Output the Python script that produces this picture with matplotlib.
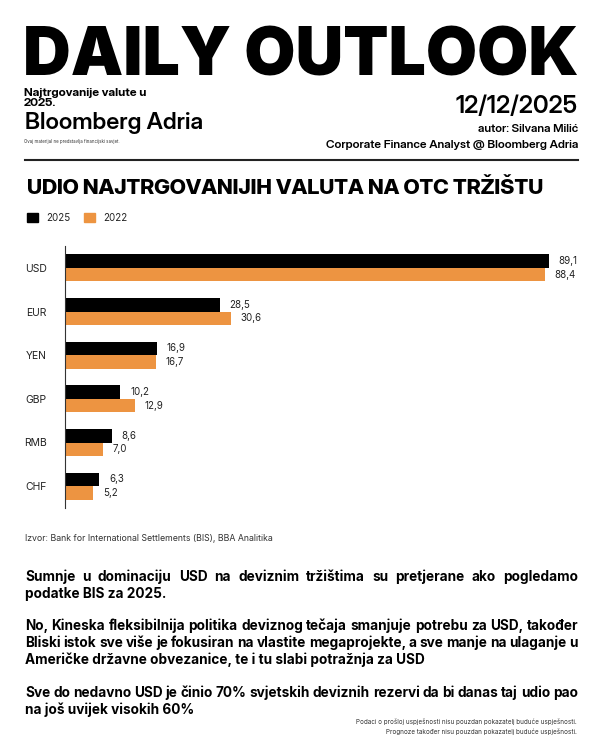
import matplotlib.pyplot as plt
from matplotlib.lines import Line2D
from matplotlib.patches import Patch
import numpy as np

currencies = ['USD', 'EUR', 'YEN', 'GBP', 'RMB', 'CHF']
share_2025 = [89.1, 28.5, 16.9, 10.2, 8.6, 6.3]
share_2022 = [88.4, 30.6, 16.7, 12.9, 7.0, 5.2]
series_names = ['2025', '2022']
colors = ['#000000', '#ED9441']

paragraphs = [
    ['Sumnje u dominaciju USD na deviznim tržištima su pretjerane ako pogledamo',
     'podatke BIS za 2025.'],
    ['No, Kineska fleksibilnija politika deviznog tečaja smanjuje potrebu za USD, također',
     'Bliski istok sve više je fokusiran na vlastite megaprojekte, a sve manje na ulaganje u',
     'Američke državne obvezanice, te i tu slabi potražnja za USD'],
    ['Sve do nedavno USD je činio 70% svjetskih deviznih rezervi da bi danas taj udio pao',
     'na još uvijek visokih 60%'],
]

W, H = 600, 750
plt.rcParams['font.family'] = ['Inter', 'DejaVu Sans']
DISPLAY = ['Inter Display', 'Inter', 'DejaVu Sans']
fig = plt.figure(figsize=(W / 100, H / 100), dpi=100)
renderer = fig.canvas.get_renderer()


def put(x, y, s, size, **kw):
    return fig.text(x / W, 1 - y / H, s, fontsize=size, va='baseline', **kw)


def fit(x, y, s, width, **kw):
    t = put(x, y, s, 10, **kw)
    w = t.get_window_extent(renderer).width
    t.set_fontsize(10 * width / w)
    return t


def justify(x0, y, line, width, size, **kw):
    words = line.split(' ')
    texts = [put(0, y, w, size, **kw) for w in words]
    widths = [t.get_window_extent(renderer).width for t in texts]
    gap = (width - sum(widths)) / (len(words) - 1)
    x = x0
    for t, w in zip(texts, widths):
        t.set_x(x / W)
        x += w + gap


# header
fit(23, 75, 'DAILY OUTLOOK', 555, weight='black')

sub = fit(24, 95, 'Najtrgovanije valute u', 122, family=DISPLAY, weight='bold')
sub_size = sub.get_fontsize()
sub.remove()
probe = put(0, 0, 'lp', sub_size, family=DISPLAY, weight='bold')
lp_h = probe.get_window_extent(renderer).height
probe.remove()
# multi-line text: baseline refers to the last line
put(24, 106, 'Najtrgovanije valute u\n2025.', sub_size, family=DISPLAY, weight='bold',
    linespacing=10.5 / lp_h)

fit(25, 129, 'Bloomberg Adria', 178, family=DISPLAY, weight='semibold')
fit(24, 143, 'Ovaj materijal ne predstavlja financijski savjet.', 95, color='#333333')
fit(578, 113, '12/12/2025', 121, ha='right', family=DISPLAY, weight='semibold')
fit(578, 132, 'autor: Silvana Milić', 101, ha='right', family=DISPLAY, weight='semibold')
fit(578, 148, 'Corporate Finance Analyst @ Bloomberg Adria', 253, ha='right',
    family=DISPLAY, weight='semibold')
fig.add_artist(Line2D([25 / W, 578 / W], [1 - 160 / H] * 2, color='#222222', lw=1.5))

# chart title
fit(27, 194, 'UDIO NAJTRGOVANIJIH VALUTA NA OTC TRŽIŠTU', 516, family=DISPLAY, weight='heavy')

# chart
ax = fig.add_axes([65 / W, 1 - 508 / H, 513 / W, 262 / H])
y = np.arange(len(currencies))
h = 0.31
bars_a = ax.barh(y - h / 2, share_2025, height=h, color=colors[0], label=series_names[0])
bars_b = ax.barh(y + h / 2, share_2022, height=h, color=colors[1], label=series_names[1])
for bars, vals in [(bars_a, share_2025), (bars_b, share_2022)]:
    ax.bar_label(bars, labels=[f'{v:.1f}'.replace('.', ',') for v in vals],
                 padding=7, fontsize=7, color='#222222')
ax.set_yticks(y, currencies)
ax.set_ylim(len(currencies) - 0.5, -0.5)
ax.set_xlim(0, 94.5)
ax.set_xticks([])
ax.tick_params(axis='y', length=0, pad=13, labelsize=7.5, labelcolor='#222222')
for s in ['top', 'right', 'bottom']:
    ax.spines[s].set_visible(False)
ax.spines['left'].set_color('#333333')
ax.spines['left'].set_linewidth(0.8)

fig.legend(handles=[Patch(color=c, label=n) for c, n in zip(colors, series_names)],
           loc='center left', bbox_to_anchor=(27 / W, 1 - 218 / H), ncol=2, frameon=False,
           fontsize=7, handlelength=1.1, handleheight=1.1, handletextpad=0.9,
           columnspacing=1.35, borderpad=0, borderaxespad=0, labelcolor='#222222')

# source + text
put(25, 541, 'Izvor: Bank for International Settlements (BIS), BBA Analitika', 6.3, color='#333333')

probe = put(0, 0, paragraphs[1][0], 10, weight='bold')
body_size = 10 * 550 / probe.get_window_extent(renderer).width
probe.remove()

baselines = [[581, 598], [630, 647, 664], [697, 714]]
for lines, ys in zip(paragraphs, baselines):
    for i, (line, yy) in enumerate(zip(lines, ys)):
        if i < len(lines) - 1:
            justify(25, yy, line, 553, body_size, weight='bold')
        else:
            put(25, yy, line, body_size, weight='bold')

fit(577, 724, 'Podaci o prošloj uspješnosti nisu pouzdan pokazatelj buduće uspješnosti.', 222,
    ha='right', color='#333333')
fit(577, 734, 'Prognoze također nisu pouzdan pokazatelj buduće uspješnosti.', 192,
    ha='right', color='#333333')

fig.savefig('out.png', dpi=100)
